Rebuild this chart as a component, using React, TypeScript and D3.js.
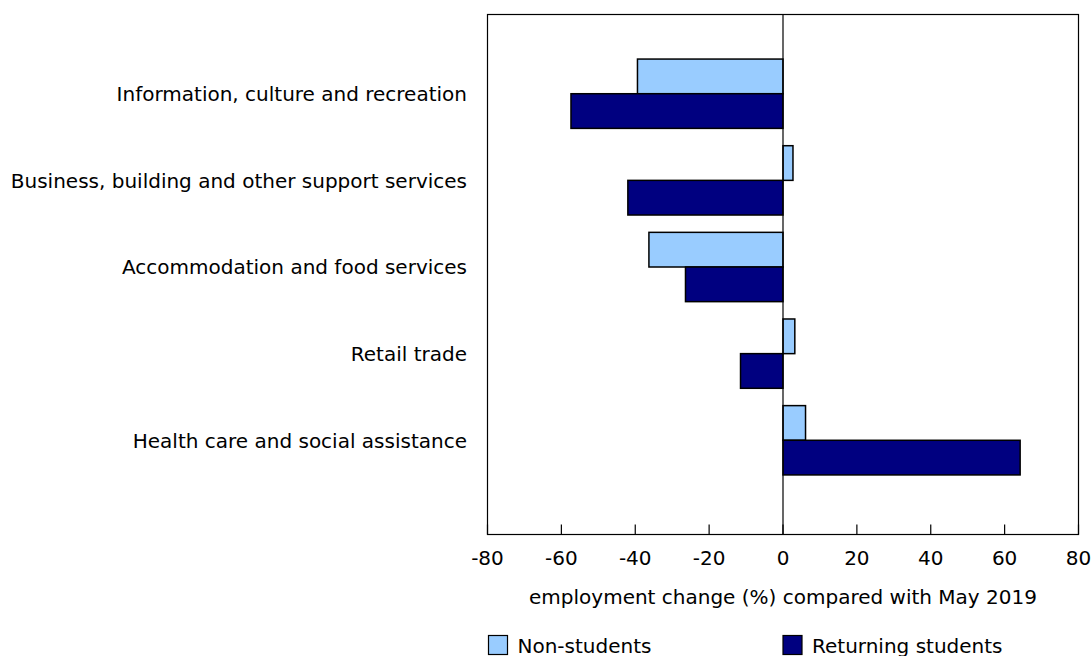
import React from "react";
import * as d3 from "d3";

const categories = [
  "Information, culture and recreation",
  "Business, building and other support services",
  "Accommodation and food services",
  "Retail trade",
  "Health care and social assistance",
];
const nonStudents = [-39.4, 2.7, -36.3, 3.2, 6.1];
const returningStudents = [-57.4, -42.0, -26.4, -11.5, 64.2];
const seriesNames = ["Non-students", "Returning students"];
const xTicks = [-80, -60, -40, -20, 0, 20, 40, 60, 80];
const axisTitle = "employment change (%) compared with May 2019";

const W = 1092;
const H = 656;
const FRAME = { left: 487.5, right: 1078.5, top: 14.5, bottom: 534.5 };
const COLORS = ["#99CCFF", "#000080"];
const FONT = "Verdana, 'DejaVu Sans', sans-serif";
const FS = 20;

export default function App() {
  const x = d3.scaleLinear().domain([-80, 80]).range([FRAME.left, FRAME.right]);
  const y = d3
    .scaleBand<string>()
    .domain(categories)
    .range([50.4, 483.6])
    .paddingInner(0.2)
    .paddingOuter(0.1);
  const sub = d3
    .scaleBand<string>()
    .domain(seriesNames)
    .range([0, y.bandwidth()]);
  const series = [nonStudents, returningStudents];
  const legendX = [x(-80) + 1, x(0)];

  return (
    <svg
      width={W}
      height={H}
      style={{ position: "absolute", left: 0, top: 0, fontFamily: FONT }}
    >
      <rect x={0} y={0} width={W} height={H} fill="#fff" />
      <rect
        x={FRAME.left}
        y={FRAME.top}
        width={FRAME.right - FRAME.left}
        height={FRAME.bottom - FRAME.top}
        fill="none"
        stroke="#000"
        strokeWidth={1.2}
      />
      {categories.map((c, i) =>
        series.map((s, k) => {
          const v = s[i];
          const x0 = x(Math.min(0, v));
          const x1 = x(Math.max(0, v));
          return (
            <rect
              key={c + k}
              x={x0}
              y={(y(c) as number) + (sub(seriesNames[k]) as number)}
              width={x1 - x0}
              height={sub.bandwidth()}
              fill={COLORS[k]}
              stroke="#000"
              strokeWidth={1.5}
            />
          );
        })
      )}
      <line
        x1={x(0)}
        x2={x(0)}
        y1={FRAME.top}
        y2={FRAME.bottom}
        stroke="#000"
        strokeWidth={1.2}
      />
      {xTicks.map((t) => (
        <g key={t}>
          <line
            x1={x(t)}
            x2={x(t)}
            y1={FRAME.bottom}
            y2={FRAME.bottom - 10}
            stroke="#000"
            strokeWidth={1.2}
          />
          <text x={x(t)} y={565} textAnchor="middle" fontSize={FS} fill="#000">
            {t}
          </text>
        </g>
      ))}
      {categories.map((c) => (
        <text
          key={c}
          x={467}
          y={(y(c) as number) + y.bandwidth() / 2}
          dy="0.37em"
          textAnchor="end"
          fontSize={FS}
          fill="#000"
        >
          {c}
        </text>
      ))}
      <text x={x(0)} y={604} textAnchor="middle" fontSize={FS} fill="#000">
        {axisTitle}
      </text>
      {seriesNames.map((n, k) => {
        const lx = legendX[k];
        return (
          <g key={n}>
            <rect
              x={lx}
              y={635.5}
              width={19}
              height={19}
              fill={COLORS[k]}
              stroke="#000"
              strokeWidth={1.2}
            />
            <text x={lx + 29} y={652.5} fontSize={FS} fill="#000">
              {n}
            </text>
          </g>
        );
      })}
    </svg>
  );
}
